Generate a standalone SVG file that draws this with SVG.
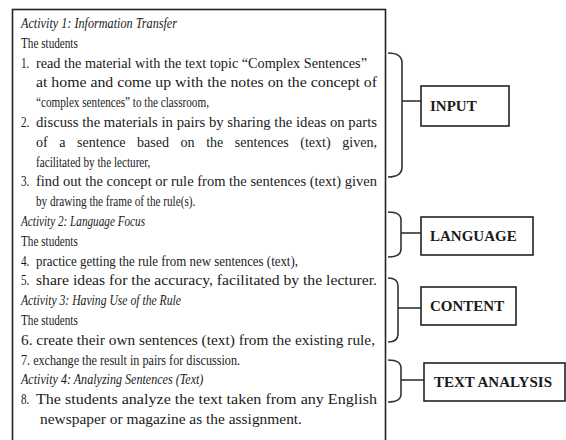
<svg xmlns="http://www.w3.org/2000/svg" width="566" height="440" viewBox="0 0 566 440">
<style>
.t{font-family:"Liberation Serif","Times New Roman",serif;font-size:14px;fill:#1a1a1a}
.i{font-style:italic}
.lb{font-family:"Liberation Serif","Times New Roman",serif;font-size:15px;font-weight:bold;fill:#1a1a1a}
.box{fill:#fff;stroke:#222;stroke-width:1.6}
.br{fill:none;stroke:#333;stroke-width:1.6}
</style>
<rect width="566" height="440" fill="#fff"/>
<g id="activities">
<rect class="box" x="12.5" y="9.5" width="373" height="445"/>
<g transform="scale(0.8,1)">
<text class="t i" x="26.25" y="28" textLength="195" lengthAdjust="spacingAndGlyphs">Activity 1: Information Transfer</text>
<text class="t" x="26.25" y="47.8">The students</text>
<text class="t" x="26.25" y="67.6">1.</text>
<text class="t" x="45" y="67.6" textLength="413.75" lengthAdjust="spacingAndGlyphs">read the material with the text topic “Complex Sentences”</text>
<text class="t" x="45" y="87.4" textLength="426.25" lengthAdjust="spacingAndGlyphs">at home and come up with the notes on the concept of</text>
<text class="t" x="45" y="107.2">“complex sentences” to the classroom,</text>
<text class="t" x="26.25" y="127">2.</text>
<text class="t" x="45" y="127" textLength="426.25" lengthAdjust="spacingAndGlyphs">discuss the materials in pairs by sharing the ideas on parts</text>
<text class="t" x="45" y="146.8" textLength="426.25" lengthAdjust="spacingAndGlyphs" word-spacing="8">of a sentence based on the sentences (text) given,</text>
<text class="t" x="45" y="166.6">facilitated by the lecturer,</text>
<text class="t" x="26.25" y="186.4">3.</text>
<text class="t" x="45" y="186.4" textLength="426.25" lengthAdjust="spacingAndGlyphs">find out the concept or rule from the sentences (text) given</text>
<text class="t" x="45" y="206.2">by drawing the frame of the rule(s).</text>
<text class="t i" x="26.25" y="226" textLength="155" lengthAdjust="spacingAndGlyphs">Activity 2: Language Focus</text>
<text class="t" x="26.25" y="245.8">The students</text>
<text class="t" x="26.25" y="265.6">4.</text>
<text class="t" x="45" y="265.6" textLength="327.5" lengthAdjust="spacingAndGlyphs">practice getting the rule from new sentences (text),</text>
<text class="t" x="26.25" y="285.4">5.</text>
<text class="t" x="45" y="285.4" textLength="426.25" lengthAdjust="spacingAndGlyphs">share ideas for the accuracy, facilitated by the lecturer.</text>
<text class="t i" x="26.25" y="305.2" textLength="200" lengthAdjust="spacingAndGlyphs">Activity 3: Having Use of the Rule</text>
<text class="t" x="26.25" y="325">The students</text>
<text class="t" x="26.25" y="344.8" textLength="442.5" lengthAdjust="spacingAndGlyphs">6. create their own sentences (text) from the existing rule,</text>
<text class="t" x="26.25" y="364.6" textLength="273.75" lengthAdjust="spacingAndGlyphs">7. exchange the result in pairs for discussion.</text>
<text class="t i" x="26.25" y="384.4" textLength="228" lengthAdjust="spacingAndGlyphs">Activity 4: Analyzing Sentences (Text)</text>
<text class="t" x="26.25" y="404.2">8.</text>
<text class="t" x="45" y="404.2" textLength="426.25" lengthAdjust="spacingAndGlyphs">The students analyze the text taken from any English</text>
<text class="t" x="50" y="424" textLength="327.5" lengthAdjust="spacingAndGlyphs">newspaper or magazine as the assignment.</text>
</g>
</g>
<g id="connectors">
<path class="br" d="M388,53 Q402,53 402,63 V167 Q402,177 388,177"/>
<path class="br" d="M402,101 H421"/>
<path class="br" d="M388,212 Q401,212 401,220 V249 Q401,257 388,257"/>
<path class="br" d="M401,233 H421"/>
<path class="br" d="M388,278 Q398,278 398,286 V334 Q398,342 388,342"/>
<path class="br" d="M398,308 H421"/>
<path class="br" d="M388,360 Q401,360 401,368 V394 Q401,402 388,402"/>
<path class="br" d="M401,380 H424"/>
</g>
<g id="input">
<rect class="box" x="421" y="86" width="88" height="40"/>
<text class="lb" x="430" y="111">INPUT</text>
</g>
<g id="language">
<rect class="box" x="421" y="217" width="112" height="38"/>
<text class="lb" x="430" y="241">LANGUAGE</text>
</g>
<g id="content">
<rect class="box" x="421" y="287" width="95" height="38"/>
<text class="lb" x="430" y="311">CONTENT</text>
</g>
<g id="text-analysis">
<rect class="box" x="424" y="363" width="141" height="38"/>
<text class="lb" x="434" y="387">TEXT ANALYSIS</text>
</g>
</svg>
